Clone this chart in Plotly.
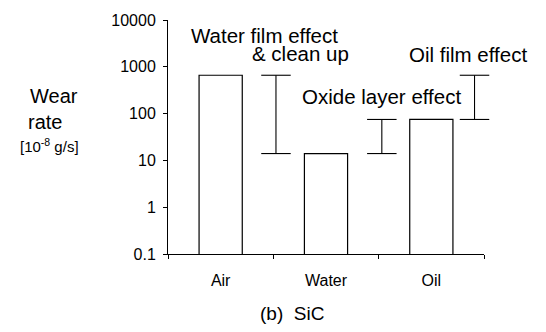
import plotly.graph_objects as go

# Wear rate of SiC in different environments [10^-8 g/s]
categories = ["Air", "Water", "Oil"]
wear_rate = [660, 14, 75]

y_tickvals = [0.1, 1, 10, 100, 1000, 10000]
y_ticktext = ["0.1", "1", "10", "100", "1000", "10000"]

# Effect brackets: (label, x position in category units, low value, high value)
effects = [
    ("Water film effect", 0.525, wear_rate[1], wear_rate[0]),
    ("Oxide layer effect", 1.53, wear_rate[1], wear_rate[2]),
    ("Oil film effect", 2.41, wear_rate[2], wear_rate[0]),
]

FONT = "Liberation Sans, Arial, sans-serif"
W, H = 546, 332
L, R, T, B = 168, 62, 14, 78
PW, PH = W - L - R, H - T - B


def px_to_paper(px, py):
    return (px - L) / PW, (H - B - py) / PH


fig = go.Figure()
fig.add_trace(go.Bar(
    x=categories,
    y=wear_rate,
    width=0.41,
    marker=dict(color="white", line=dict(color="black", width=1.2)),
    showlegend=False,
))

n_cat = len(categories)
half_w = 0.14
for name, xc, lo, hi in effects:
    xp = (xc + 0.5) / n_cat
    hw = half_w / n_cat
    line = dict(color="black", width=1.1)
    fig.add_shape(type="line", xref="paper", yref="y", x0=xp, x1=xp, y0=lo, y1=hi, line=line)
    fig.add_shape(type="line", xref="paper", yref="y", x0=xp - hw, x1=xp + hw, y0=hi, y1=hi, line=line)
    fig.add_shape(type="line", xref="paper", yref="y", x0=xp - hw, x1=xp + hw, y0=lo, y1=lo, line=line)

texts = [
    ("Water film effect", 264, 30, 20.5),
    ("& clean up", 300, 48, 20.5),
    ("Oil film effect", 468, 49, 20.5),
    ("Oxide layer effect", 381, 92, 20.5),
    ("Wear", 54, 92, 20),
    ("rate", 45, 119, 20),
    ("[10<sup>-8</sup> g/s]", 49, 143, 15),
    ("(b)  SiC", 292, 315, 19),
]
for txt, px, py, size in texts:
    xp, yp = px_to_paper(px, py)
    fig.add_annotation(
        text=txt, x=xp, y=yp, xref="paper", yref="paper",
        showarrow=False, xanchor="center", yanchor="middle",
        font=dict(family=FONT, size=size, color="black"),
    )

fig.update_layout(
    width=W, height=H,
    margin=dict(l=L, r=R, t=T, b=B),
    paper_bgcolor="white", plot_bgcolor="white",
    font=dict(family=FONT, size=16, color="black"),
    xaxis=dict(
        type="category", range=[-0.5, 2.5],
        showline=True, linecolor="black", linewidth=1,
        ticks="outside", ticklen=4, tickcolor="black",
        tickson="boundaries", showgrid=False,
        tickfont=dict(size=16), ticklabelstandoff=12,
    ),
    yaxis=dict(
        type="log", range=[-1, 4],
        tickvals=y_tickvals, ticktext=y_ticktext,
        showline=True, linecolor="black", linewidth=1,
        ticks="outside", ticklen=4, tickcolor="black",
        showgrid=False, zeroline=False,
        tickfont=dict(size=16), ticklabelstandoff=4,
    ),
)

fig.write_html("out.html")
